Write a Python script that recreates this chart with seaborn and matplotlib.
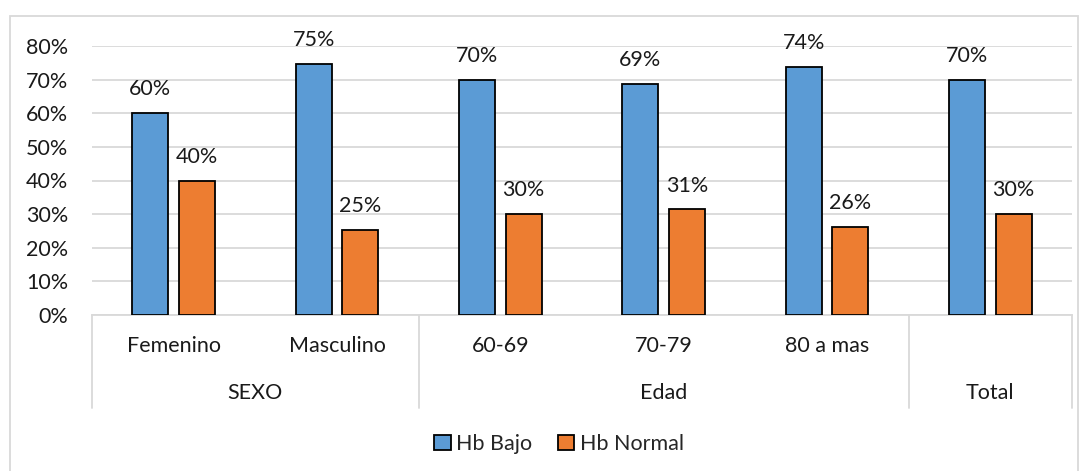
import matplotlib
matplotlib.use("Agg")
import matplotlib.pyplot as plt
import matplotlib.transforms as mtransforms
from matplotlib.patches import Rectangle
from matplotlib.lines import Line2D
import seaborn as sns
import pandas as pd

# Data
categories = ["Femenino", "Masculino", "60-69", "70-79", "80 a mas", "Total"]
tick_labels = ["Femenino", "Masculino", "60-69", "70-79", "80 a mas", ""]
groups = ["SEXO", "SEXO", "Edad", "Edad", "Edad", "Total"]
hb_bajo = [60.0, 74.7, 70.0, 68.6, 73.7, 70.0]
hb_normal = [40.0, 25.3, 30.0, 31.4, 26.3, 30.0]
series = ["Hb Bajo", "Hb Normal"]
yticks = [0, 10, 20, 30, 40, 50, 60, 70, 80]

colors = {"Hb Bajo": "#5B9BD5", "Hb Normal": "#ED7D31"}
grid_color = "#D9D9D9"
text_color = "#1a1a1a"
FS = 15.5

df = pd.DataFrame({
    "cat": categories * 2,
    "serie": [series[0]] * len(categories) + [series[1]] * len(categories),
    "valor": hb_bajo + hb_normal,
})

sns.set_theme(style="white")
plt.rcParams["font.family"] = ["Lato", "DejaVu Sans"]
plt.rcParams["font.size"] = FS

W, H = 1085, 471
fig = plt.figure(figsize=(W / 100, H / 100), dpi=100)
ax = fig.add_axes([92 / W, (H - 315) / H, (1072 - 92) / W, (315 - 46) / H])

sns.barplot(data=df, x="cat", y="valor", hue="serie", order=categories,
            hue_order=series, palette=colors, width=0.57, gap=0.23,
            edgecolor="black", linewidth=1.3, saturation=1, ax=ax,
            legend=False, zorder=3)

ax.set_xlim(-0.5, len(categories) - 0.5)
ax.set_ylim(0, 80)
ax.set_yticks(yticks)
ax.set_yticklabels([f"{v}%" for v in yticks], fontsize=FS, color=text_color)
ax.yaxis.grid(True, color=grid_color, linewidth=1.3, zorder=0)
ax.set_axisbelow(True)
ax.tick_params(axis="y", length=0, pad=17)
ax.tick_params(axis="x", length=0, pad=15)
ax.set_xticks(range(len(categories)))
ax.set_xticklabels(tick_labels, fontsize=FS, color=text_color)
ax.set_xlabel("")
ax.set_ylabel("")
for s in ["left", "right", "top"]:
    ax.spines[s].set_visible(False)
ax.spines["bottom"].set_color(grid_color)
ax.spines["bottom"].set_linewidth(1.3)

# Value labels above each bar
for cont in ax.containers:
    ax.bar_label(cont, labels=[f"{b.get_height():.0f}%" for b in cont],
                 padding=10, fontsize=FS, color=text_color, clip_on=False)

# Group separators and group labels under the category labels
trans = mtransforms.blended_transform_factory(ax.transData, fig.transFigure)
y_top = (H - 315) / H
y_bot = (H - 408) / H
for xb in [-0.5, 1.5, 4.5, 5.5]:
    fig.add_artist(Line2D([xb, xb], [y_top, y_bot], transform=trans,
                          color=grid_color, linewidth=1.3))
group_spans = {}
for i, g in enumerate(groups):
    group_spans.setdefault(g, []).append(i)
for g, idx in group_spans.items():
    xc = (idx[0] + idx[-1]) / 2
    fig.text(xc, (H - 393) / H, g, transform=trans, ha="center", va="center",
             fontsize=FS, color=text_color)

# Legend
handles = [Rectangle((0, 0), 1, 1, facecolor=colors[s], edgecolor="black",
                     linewidth=1.3) for s in series]
fig.legend(handles, series, loc="center", bbox_to_anchor=(559 / W, (H - 444) / H),
           ncol=2, frameon=False, fontsize=FS, handlelength=0.75,
           handleheight=0.75, handletextpad=0.25, columnspacing=1.2)

# Chart frame
fig.add_artist(Rectangle((10 / W, -0.05), (1078 - 10) / W, (H - 16) / H + 0.05,
                         transform=fig.transFigure, fill=False,
                         edgecolor=grid_color, linewidth=1.3))

fig.savefig("out.png", dpi=100, facecolor="white")
